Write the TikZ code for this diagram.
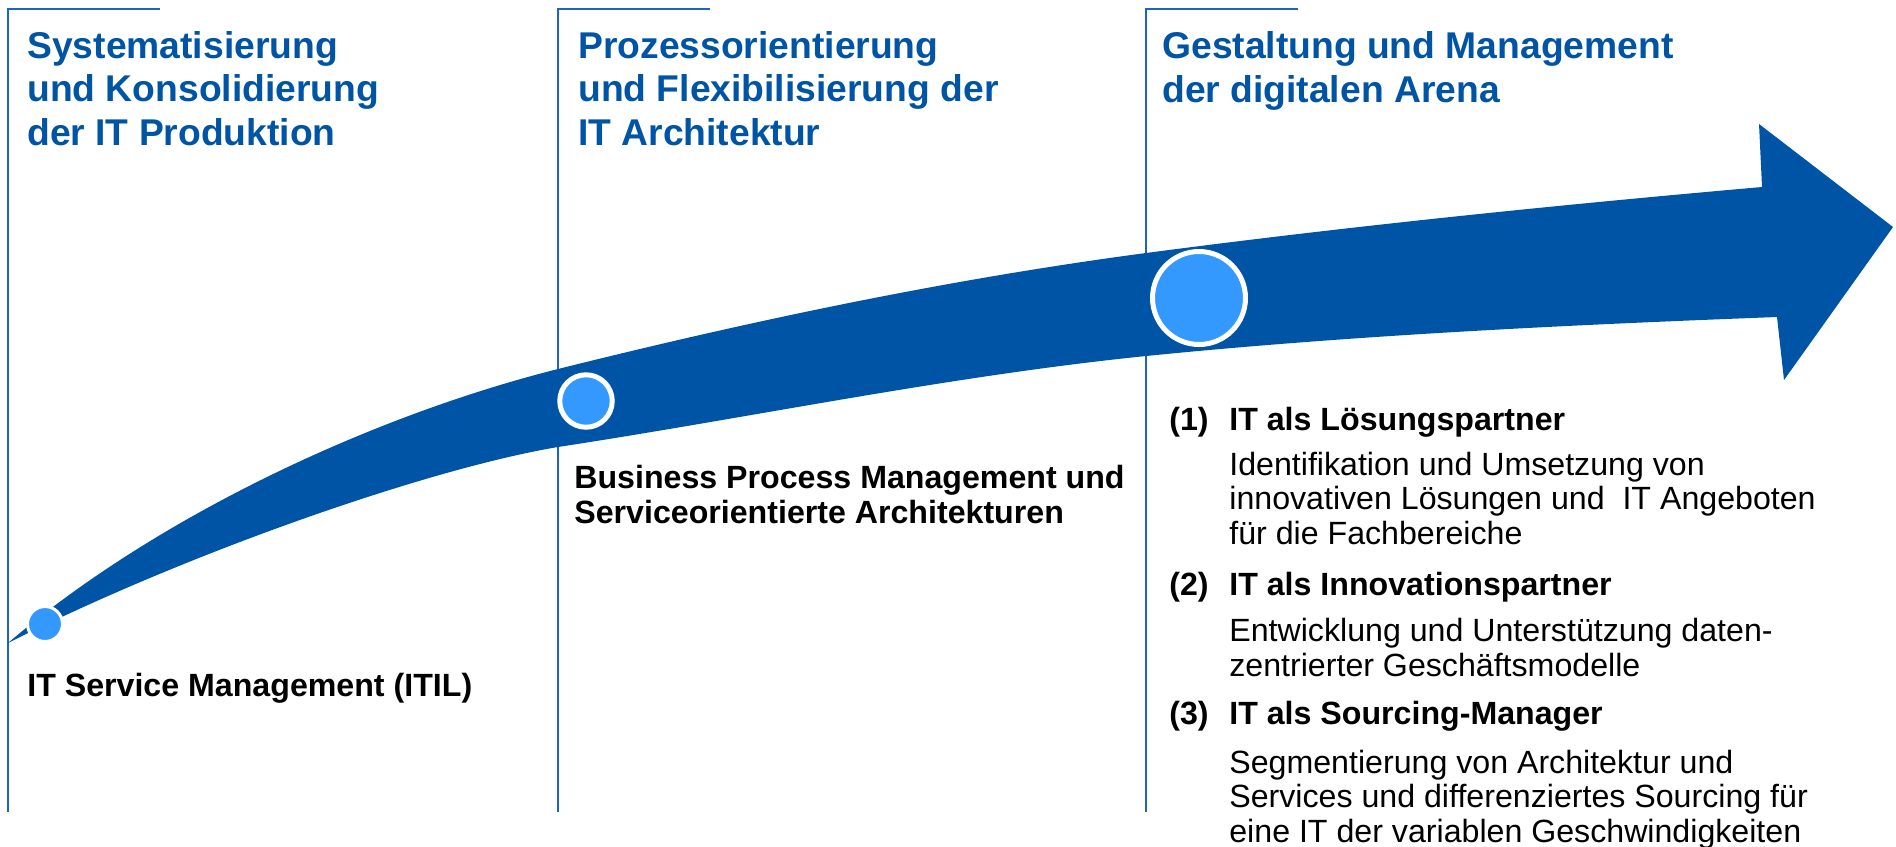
\documentclass[tikz,border=0pt]{standalone}
\usepackage{fontspec}
\setmainfont{Liberation Sans}
\definecolor{arrowblue}{RGB}{0,84,166}
\definecolor{dotblue}{RGB}{51,153,255}
\definecolor{lineblue}{RGB}{30,100,190}
\newcommand{\px}{0.02cm}

\begin{document}
\begin{tikzpicture}[x=\px, y=-\px,
    phase/.style={anchor=base west, inner sep=0pt, align=left, text=arrowblue, font=\bfseries\fontsize{21.2pt}{24.5pt}\selectfont},
    topic/.style={anchor=base west, inner sep=0pt, align=left, font=\bfseries\fontsize{18.3pt}{19.6pt}\selectfont},
    detail/.style={anchor=base west, inner sep=0pt, align=left, font=\fontsize{18.3pt}{19.4pt}\selectfont},
    bracket/.style={lineblue, line width=0.045cm},
    milestone/.style={circle, fill=dotblue, draw=white, inner sep=0pt}]
    \useasboundingbox (0,0) rectangle (1896,846);

    % Phase brackets
    \draw[bracket] (160,9) -- (8,9) -- (8,812);
    \draw[bracket] (710,9) -- (558,9) -- (558,812);
    \draw[bracket] (1298,9) -- (1146,9) -- (1146,812);

    % Arrow
    \fill[arrowblue] (8,643) .. controls (158,515) and (375,415) .. (558,369)
        .. controls (754,320) and (950,279) .. (1146,253)
        .. controls (1351,226) and (1557,205) .. (1762,187)
        -- (1759,124) -- (1893,227) -- (1784,380) -- (1777,317)
        .. controls (1567,325) and (1356,335) .. (1146,356)
        .. controls (950,376) and (754,417) .. (558,447)
        .. controls (432,468) and (191,551) .. (8,643) -- cycle;

    % Milestones
    \node[milestone, minimum size=0.7cm, line width=0.06cm] (dot-1) at (45,624) {};
    \node[milestone, minimum size=1.05cm, line width=0.1cm] (dot-2) at (586,401) {};
    \node[milestone, minimum size=1.86cm, line width=0.1cm] (dot-3) at (1199,298) {};

    % Headings (placed at the baseline of their last line)
    \node[phase] (phase-1) at (27,145) {Systematisierung\\und Konsolidierung\\der IT Produktion};
    \node[phase] (phase-2) at (578,145) {Prozessorientierung\\und Flexibilisierung der\\IT Architektur};
    \node[phase] (phase-3) at (1162,102) {Gestaltung und Management\\der digitalen Arena};

    % Topics
    \node[topic] (topic-1) at (27,696) {IT Service Management (ITIL)};
    \node[topic] (topic-2) at (574,523) {Business Process Management und\\Serviceorientierte Architekturen};

    \node[topic] (item-1) at (1169,430) {\makebox[1.2cm][l]{(1)}IT als Lösungspartner};
    \node[detail] (detail-1) at (1229,544) {Identifikation und Umsetzung von\\innovativen Lösungen und\ \ IT Angeboten\\für die Fachbereiche};
    \node[topic] (item-2) at (1169,595) {\makebox[1.2cm][l]{(2)}IT als Innovationspartner};
    \node[detail] (detail-2) at (1229,676) {Entwicklung und Unterstützung daten-\\zentrierter Geschäftsmodelle};
    \node[topic] (item-3) at (1169,724) {\makebox[1.2cm][l]{(3)}IT als Sourcing-Manager};
    \node[detail] (detail-3) at (1229,842) {Segmentierung von Architektur und\\Services und differenziertes Sourcing für\\eine IT der variablen Geschwindigkeiten};
\end{tikzpicture}
\end{document}
